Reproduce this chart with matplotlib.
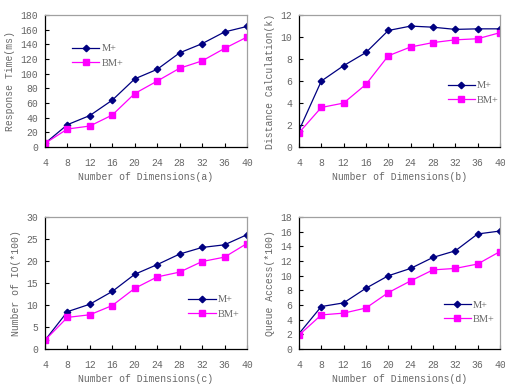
import matplotlib
matplotlib.use("Agg")
import matplotlib.pyplot as plt

dims = [4, 8, 12, 16, 20, 24, 28, 32, 36, 40]

# (a) response time (ms)
resp_m = [5, 30.5, 43, 64, 93, 106, 128.5, 141, 157, 164.5]
resp_bm = [5, 24.6, 28.7, 43.7, 73, 90, 107.5, 117.5, 134.5, 150]

# (b) distance calculation (k)
dist_m = [1.5, 6.0, 7.4, 8.6, 10.6, 11.0, 10.9, 10.7, 10.75, 10.75]
dist_bm = [1.3, 3.6, 4.0, 5.7, 8.3, 9.1, 9.5, 9.75, 9.85, 10.4]

# (c) number of IO (*100)
io_m = [2.0, 8.5, 10.2, 13.1, 17.0, 19.2, 21.6, 23.1, 23.7, 26.0]
io_bm = [2.0, 7.2, 7.8, 9.9, 13.8, 16.4, 17.5, 19.9, 20.9, 24.0]

# (d) queue access (*100)
queue_m = [2.1, 5.8, 6.3, 8.3, 10.0, 11.0, 12.5, 13.4, 15.7, 16.1]
queue_bm = [1.9, 4.66, 4.9, 5.6, 7.7, 9.3, 10.8, 11.0, 11.6, 13.3]

panels = [
    (resp_m, resp_bm, "Response Time(ms)", "Number of Dimensions(a)", 180, 20, (0.114, 0.69)),
    (dist_m, dist_bm, "Distance Calculation(k)", "Number of Dimensions(b)", 12, 2, (0.72, 0.41)),
    (io_m, io_bm, "Number of IO(*100)", "Number of Dimensions(c)", 30, 5, (0.69, 0.32)),
    (queue_m, queue_bm, "Queue Access(*100)", "Number of Dimensions(d)", 18, 2, (0.70, 0.28)),
]

positions = [
    [0.089, 0.620, 0.400, 0.341],
    [0.592, 0.620, 0.398, 0.341],
    [0.089, 0.098, 0.400, 0.341],
    [0.592, 0.098, 0.398, 0.341],
]

text_color = "#666666"
mono = "Liberation Mono"

fig = plt.figure(figsize=(5.05, 3.87), dpi=100)

for (m, bm, ylab, xlab, ymax, step, leg), pos in zip(panels, positions):
    ax = fig.add_axes(pos)
    x = list(range(len(dims)))
    ax.plot(x, m, color="#000080", marker="D", markersize=3.3, linewidth=0.9, label="M+")
    ax.plot(x, bm, color="#FF00FF", marker="s", markersize=3.8, linewidth=0.9, label="BM+")
    ax.set_xlim(0, len(dims) - 1)
    ax.set_ylim(0, ymax)
    ax.set_xticks(x)
    ax.set_xticklabels([str(d) for d in dims])
    ax.set_yticks(range(0, ymax + 1, step))
    for s in ["left", "bottom"]:
        ax.spines[s].set_color("black")
        ax.spines[s].set_linewidth(0.9)
    for s in ["top", "right"]:
        ax.spines[s].set_color("#a0a0a0")
        ax.spines[s].set_linewidth(0.9)
    ax.tick_params(axis="x", direction="in", length=3, pad=8, labelsize=7,
                   labelcolor=text_color)
    ax.tick_params(axis="y", direction="in", length=3, pad=5, labelsize=7,
                   labelcolor=text_color)
    for lbl in ax.get_xticklabels() + ax.get_yticklabels():
        lbl.set_family(mono)
    ax.set_xlabel(xlab, fontsize=7, family=mono, color=text_color, labelpad=2.5)
    ax.set_ylabel(ylab, fontsize=7, family=mono, color=text_color, labelpad=4)
    ax.legend(loc="center left", bbox_to_anchor=leg, frameon=False,
              handlelength=2.6, handletextpad=0.2, labelspacing=0.5,
              borderaxespad=0, prop={"family": "Liberation Serif", "size": 7.5},
              labelcolor=text_color)

fig.savefig("out.png", dpi=100)
